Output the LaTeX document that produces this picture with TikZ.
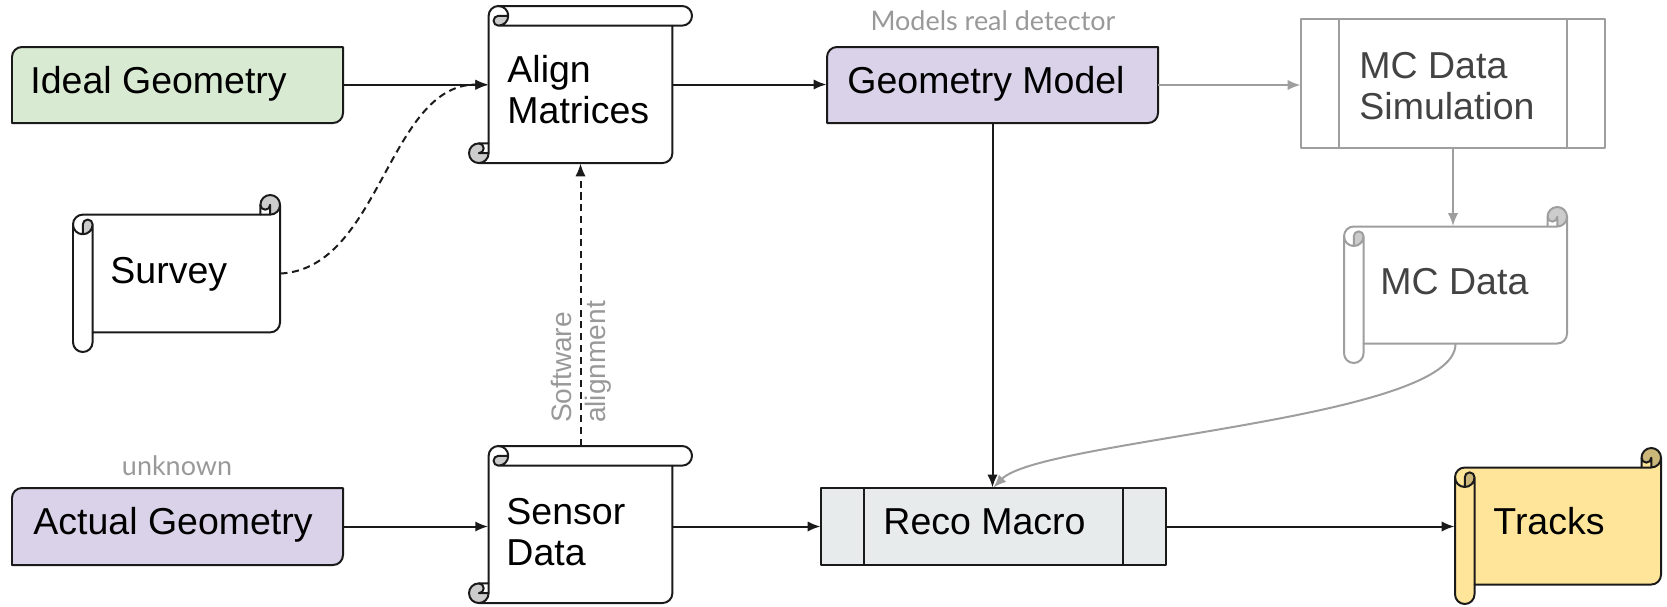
\documentclass[tikz,border=0pt]{standalone}
\usepackage{fontspec}
\setmainfont{Liberation Sans}
\newfontfamily\latofont{Lato}
\usetikzlibrary{arrows.meta}

\definecolor{lineblack}{HTML}{1A1A1A}
\definecolor{linegray}{HTML}{9E9E9E}
\definecolor{textgray}{HTML}{434343}
\definecolor{notegray}{HTML}{999999}
\definecolor{idealfill}{HTML}{D9EAD3}
\definecolor{geofill}{HTML}{D9D2E9}
\definecolor{recofill}{HTML}{E7EBEC}
\definecolor{tracksfill}{HTML}{FFE599}
\definecolor{trackscurl}{HTML}{CCB77A}
\definecolor{curlgray}{HTML}{CCCCCC}

\tikzset{
  shapeline/.style={line width=0.85pt, line join=round},
  conn/.style={line width=0.85pt, draw=lineblack, -{Latex[length=5.5pt,width=4.4pt]}},
  conngray/.style={conn, draw=linegray},
  dashconn/.style={conn, dash pattern=on 3pt off 2pt},
  area/.style={inner sep=0pt, draw=none},
  boxtext/.style={font=\fontsize{16}{17.5}\selectfont, align=left, anchor=west, inner sep=0pt},
  oneline/.style={boxtext, text height=0.92em, text depth=0.21em},
  note/.style={font=\latofont\fontsize{11.5}{13}\selectfont, text=notegray, inner sep=0pt},
  swlabel/.style={font=\fontsize{12}{14.5}\selectfont, text=notegray, align=left, inner sep=0pt},
}

% invisible rectangle node spanning (x0,y0)-(x1,y1), used as a connection target
\newcommand\areanode[5]{%
  \node[area, minimum width={(#4-#2)*0.015cm}, minimum height={(#5-#3)*0.015cm}]
    (#1) at ({(#2+#4)/2},{(#3+#5)/2}) {};}

% rectangle with rounded top-left and bottom-right corners
\newcommand\diagrect[6]{%
  \filldraw[fill=#6, draw=lineblack, shapeline]
    (#2,#5) -- (#2,#3+10) arc[start angle=180, delta angle=90, radius=10]
    -- (#4,#3) -- (#4,#5-10) arc[start angle=0, delta angle=90, radius=10] -- cycle;
  \areanode{#1}{#2}{#3}{#4}{#5}}

% horizontal scroll in local coordinates (0,0)-(#1,#2), y pointing down
% #3 paper fill, #4 curl fill, #5 outline colour
\newcommand\scrollbody[5]{%
  \pgfmathsetmacro\scrC{0.125*min(#1,#2)}%
  \pgfmathsetmacro\scrCh{\scrC/2}%
  \pgfmathsetmacro\scrCq{\scrC/4}%
  \pgfmathsetmacro\scrYa{1.5*\scrC}%
  \pgfmathsetmacro\scrYb{2*\scrC}%
  \pgfmathsetmacro\scrYf{#2-\scrC}%
  \pgfmathsetmacro\scrYg{#2-\scrCh}%
  \pgfmathsetmacro\scrYe{#2-1.5*\scrC}%
  \pgfmathsetmacro\scrXc{#1-\scrC}%
  \pgfmathsetmacro\scrXd{#1-\scrCh}%
  \fill[#3] (#1,\scrCh) arc[start angle=0, delta angle=90, radius=\scrCh]
    -- (\scrXd,\scrCh) arc[start angle=0, delta angle=180, radius=\scrCq]
    -- (\scrXc,\scrC) -- (\scrCh,\scrC) arc[start angle=270, delta angle=-90, radius=\scrCh]
    -- (0,\scrYg) arc[start angle=180, delta angle=-180, radius=\scrCh]
    -- (\scrC,\scrYf) -- (\scrXd,\scrYf) arc[start angle=90, delta angle=-90, radius=\scrCh] -- cycle;
  \fill[#4] (\scrCh,\scrYb) arc[start angle=90, delta angle=-90, radius=\scrCh]
      arc[start angle=0, delta angle=-180, radius=\scrCq] -- cycle
    (\scrXd,\scrC) arc[start angle=90, delta angle=-270, radius=\scrCh]
      arc[start angle=180, delta angle=-180, radius=\scrCq] -- cycle;
  \draw[draw=#5, shapeline] (0,\scrYa) arc[start angle=180, delta angle=90, radius=\scrCh]
    -- (\scrXc,\scrC) -- (\scrXc,\scrCh) arc[start angle=180, delta angle=180, radius=\scrCh]
    -- (#1,\scrYe) arc[start angle=0, delta angle=90, radius=\scrCh]
    -- (\scrC,\scrYf) -- (\scrC,\scrYg) arc[start angle=0, delta angle=180, radius=\scrCh] -- cycle;
  \draw[draw=#5, shapeline]
    (\scrXc,\scrC) -- (\scrXd,\scrC) arc[start angle=90, delta angle=-90, radius=\scrCh]
    (\scrXd,\scrC) -- (\scrXd,\scrCh) arc[start angle=0, delta angle=180, radius=\scrCq]
    (\scrCh,\scrYb) -- (\scrCh,\scrYa) arc[start angle=180, delta angle=180, radius=\scrCq]
      arc[start angle=0, delta angle=180, radius=\scrCh]
    (\scrC,\scrYa) -- (\scrC,\scrYf);
}
% horizontal scroll with box (#1,#2) of width #3 and height #4
\newcommand\hscroll[7]{%
  \begin{scope}[shift={(#1,#2)}]\scrollbody{#3}{#4}{#5}{#6}{#7}\end{scope}}
% vertical scroll: the same figure mirrored about the diagonal
\newcommand\vscroll[7]{%
  \begin{scope}[cm={0,-1,-1,0,(#1,#2)}]\scrollbody{#4}{#3}{#5}{#6}{#7}\end{scope}}

\begin{document}
\begin{tikzpicture}[x=0.015cm, y=-0.015cm]
\useasboundingbox (0,0) rectangle (1667,606);

% ---- geometry inputs
\diagrect{ideal}{12}{47}{343}{123}{idealfill}
\node[oneline] (idealT) at (30,85) {Ideal Geometry};

\diagrect{actual}{12}{488}{343}{565}{geofill}
\node[oneline] (actualT) at (33,526.5) {Actual Geometry};
\node[note] (actualN) at (177,466) {unknown};

% ---- survey
\hscroll{73}{195}{207}{157}{white}{curlgray}{lineblack}
\areanode{survey}{73}{214.6}{280}{332.4}
\node[oneline] (surveyT) at (110,275) {Survey};

% ---- alignment matrices and sensor data
\vscroll{469}{6}{223}{157}{white}{curlgray}{lineblack}
\areanode{align}{488.6}{6}{672.4}{163}
\node[boxtext] (alignT) at (507,90) {Align\\Matrices};

\vscroll{469}{446}{223}{157}{white}{curlgray}{lineblack}
\areanode{sensor}{488.6}{446}{672.4}{603}
\node[boxtext] (sensorT) at (506,532) {Sensor\\Data};

% ---- geometry model
\diagrect{geo}{827}{47}{1158}{123}{geofill}
\node[oneline] (geoT) at (847,85) {Geometry Model};
\node[note] (geoN) at (993,21) {Models real detector};

% ---- simulation branch
\draw[draw=linegray, shapeline] (1301,19) rectangle (1605,148)
  (1339,19) -- (1339,148) (1567,19) -- (1567,148);
\areanode{mcsim}{1301}{19}{1605}{148}
\node[boxtext, text=textgray] (mcsimT) at (1359,86) {MC Data\\Simulation};

\hscroll{1344}{207}{223}{156}{white}{curlgray}{linegray}
\areanode{mcdata}{1344}{226.5}{1567}{343.5}
\node[oneline, text=textgray] (mcdataT) at (1380,286) {MC Data};

% ---- reconstruction
\filldraw[fill=recofill, draw=lineblack, shapeline] (821,488) rectangle (1166,565)
  (864,488) -- (864,565) (1123,488) -- (1123,565);
\areanode{reco}{821}{488}{1166}{565}
\node[oneline] (recoT) at (883,526.5) {Reco Macro};

\hscroll{1455}{448}{206}{156}{tracksfill}{trackscurl}{lineblack}
\areanode{tracks}{1455}{467.5}{1661}{584.5}
\node[oneline] (tracksT) at (1493,526.5) {Tracks};

% ---- connectors
\draw[conn] (ideal.east) -- (ideal.east -| align.west);
\draw[dashconn] (survey.east) .. controls +(100,-5) and +(-100,0) .. (align.west);
\draw[conn] (align.east) -- (align.east -| geo.west);
\draw[conngray] (geo.east) -- (geo.east -| mcsim.west);
\draw[conngray] (mcsim.south) -- (mcsim.south |- mcdata.north);
\draw[conn] (geo.south) -- (geo.south |- reco.north);
\draw[conngray] (mcdata.south) .. controls +(0,76) and +(47,-48) .. (reco.north);
\draw[dashconn] (sensor.north) -- (align.south);
\draw[conn] (actual.east) -- (actual.east -| sensor.west);
\draw[conn] (reco.west -| sensor.east) -- (reco.west);
\draw[conn] (reco.east) -- (reco.east -| tracks.west);

\node[swlabel, rotate=90] (swL) at (581,362) {Software\\alignment};
\end{tikzpicture}
\end{document}
